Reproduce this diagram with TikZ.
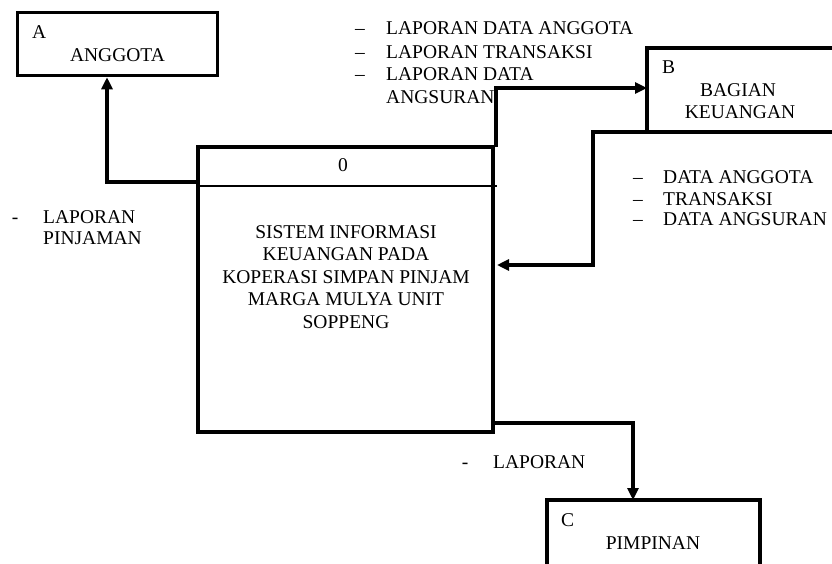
\documentclass[tikz,border=0pt]{standalone}
\usepackage{fontspec}
\setmainfont{Liberation Serif}
\usetikzlibrary{arrows.meta}
\begin{document}
\begin{tikzpicture}[x=1pt,y=-1pt,
  entity/.style={draw,line width=3.5pt,inner sep=0pt},
  flow/.style={line width=3.5pt,-{Triangle[length=12pt,width=11pt]}},
  lbl/.style={inner sep=0pt,font=\fontsize{19.5}{22.5}\selectfont},
]
\useasboundingbox (0,0) rectangle (832,563);
\clip (0,0) rectangle (832,563);
% boxes
\node[entity,minimum width=200pt,minimum height=63pt] (A) at (117.5,44) {};
\node[entity,minimum width=210pt,minimum height=84pt] (B) at (752,90) {};
\node[entity,minimum width=213pt,minimum height=100pt] (C) at (653.5,550) {};
\node[entity,minimum width=295pt,minimum height=285pt] (P) at (345.5,289.5) {};
\coordinate (divL) at (198,186);
\coordinate (divR) at (497,186);
\draw[line width=1.2pt] (divL) -- (divR);
% box texts
\node[lbl,anchor=base west] (Aid) at (32,38.5) {A};
\node[lbl,anchor=base] (Aname) at (117.5,61) {ANGGOTA};
\node[lbl,anchor=base west] (Bid) at (662,73) {B};
\node[lbl,anchor=base] (Bname1) at (738,96.3) {BAGIAN};
\node[lbl,anchor=base] (Bname2) at (740,118) {KEUANGAN};
\node[lbl,anchor=base west] (Cid) at (561,526) {C};
\node[lbl,anchor=base] (Cname) at (653,549) {PIMPINAN};
\node[lbl,anchor=base] (Pid) at (343,171) {0};
\node[lbl,align=center,anchor=center] (Pname) at (346,276.7)
  {SISTEM INFORMASI\\KEUANGAN  PADA\\KOPERASI SIMPAN PINJAM\\MARGA MULYA UNIT\\SOPPENG};
% connectors
\coordinate (aTurn) at (107,182);
\coordinate (pLeft) at (198,182);
\draw[flow] (pLeft) -- (aTurn) -- (A.south -| aTurn);
\coordinate (pTopR) at (496,147);
\coordinate (bUp) at (496,88);
\coordinate (bIn) at (647,88);
\draw[flow] (pTopR) -- (bUp) -- (bIn);
\coordinate (bOut) at (648,132);
\coordinate (bTurn1) at (593,132);
\coordinate (bTurn2) at (593,265);
\coordinate (pIn) at (497,265);
\draw[flow] (bOut) -- (bTurn1) -- (bTurn2) -- (pIn);
\coordinate (pOut) at (493,423);
\coordinate (cTurn) at (633,423);
\coordinate (cIn) at (633,500);
\draw[flow] (pOut) -- (cTurn) -- (cIn);
% flow labels
\node[lbl,anchor=base] (t1d) at (360,34.6) {–};
\node[lbl,anchor=base west] (t1) at (386,34.6) {LAPORAN DATA ANGGOTA};
\node[lbl,anchor=base] (t2d) at (360,58) {–};
\node[lbl,anchor=base west] (t2) at (386,58) {LAPORAN TRANSAKSI};
\node[lbl,anchor=base] (t3d) at (360,80.3) {–};
\node[lbl,anchor=base west] (t3) at (386,80.3) {LAPORAN DATA};
\node[lbl,anchor=base west] (t4) at (386,103) {ANGSURAN};
\node[lbl,anchor=base] (r1d) at (638,183) {–};
\node[lbl,anchor=base west] (r1) at (663,183) {DATA ANGGOTA};
\node[lbl,anchor=base] (r2d) at (638,205.6) {–};
\node[lbl,anchor=base west] (r2) at (663,205.6) {TRANSAKSI};
\node[lbl,anchor=base] (r3d) at (638,225.6) {–};
\node[lbl,anchor=base west] (r3) at (663,225.6) {DATA ANGSURAN};
\node[lbl,anchor=base] (l1d) at (15,223) {-};
\node[lbl,anchor=base west] (l1) at (43,223) {LAPORAN};
\node[lbl,anchor=base west] (l2) at (43,244) {PINJAMAN};
\node[lbl,anchor=base] (cd) at (465,468) {-};
\node[lbl,anchor=base west] (cl) at (493,468) {LAPORAN};
\end{tikzpicture}
\end{document}
